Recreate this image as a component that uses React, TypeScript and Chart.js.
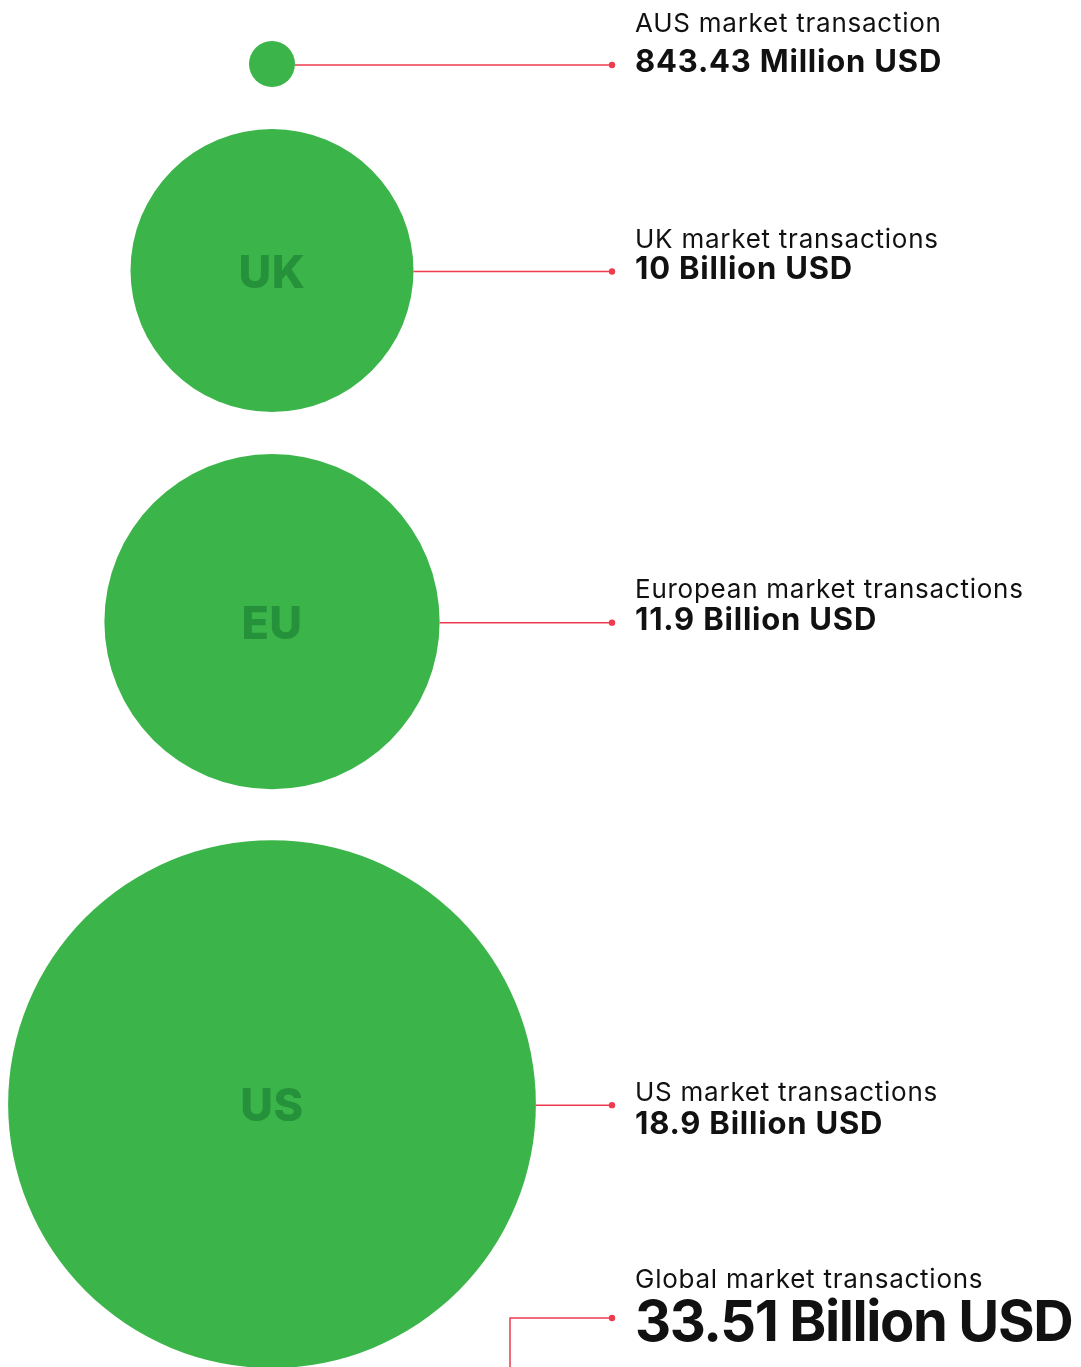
import React, { useEffect, useRef } from "react";
import { Chart, registerables } from "chart.js";

Chart.register(...registerables);

// Market transaction values, in billions of USD
const MARKETS = ["AUS", "UK", "EU", "US"];
const VALUES_BN = [0.84343, 10, 11.9, 18.9];
const BUBBLE_TAGS = ["", "UK", "EU", "US"];
const TITLES = [
  "AUS market transaction",
  "UK market transactions",
  "European market transactions",
  "US market transactions",
];
const VALUE_LABELS = [
  "843.43 Million USD",
  "10 Billion USD",
  "11.9 Billion USD",
  "18.9 Billion USD",
];
const GLOBAL_TITLE = "Global market transactions";
const GLOBAL_LABEL = "33.51 Billion USD";

// Layout
const W = 1081;
const H = 1367;
const COLUMN_X = 272;
const FIRST_TOP = 41;
const STACK_GAPS = [0, 42, 42, 51];
const TITLE_GAPS = [40, 31, 32, 33];
const VALUE_OFFSETS = [8, 8, 8, 30];
const LEADER_END_X = 612;
const TEXT_X = 635;
const GLOBAL_LEADER_X = 510;
const GLOBAL_LEADER_Y = 1318;

const GREEN = "#3bb54a";
const TAG_GREEN = "#25913a";
const RED = "#ee3b4f";
const FONT = "Inter, 'Noto Sans', sans-serif";

const radiusFor = (v: number) => Math.max(23, 4 + 13.75 * v);

// Bubbles are stacked vertically, each separated from the previous by a gap
function stackCenters(): number[] {
  const ys: number[] = [];
  let top = FIRST_TOP;
  VALUES_BN.forEach((v, i) => {
    const r = radiusFor(v);
    top += STACK_GAPS[i];
    ys.push(top + r);
    top += 2 * r;
  });
  return ys;
}

function drawText(
  ctx: CanvasRenderingContext2D,
  text: string,
  x: number,
  y: number,
  font: string,
  spacing: string
) {
  ctx.font = font;
  (ctx as any).letterSpacing = spacing;
  ctx.fillText(text, x, y);
  (ctx as any).letterSpacing = "0px";
}

function drawLeader(ctx: CanvasRenderingContext2D, points: [number, number][]) {
  ctx.strokeStyle = RED;
  ctx.lineWidth = 1.5;
  ctx.beginPath();
  points.forEach(([px, py], k) => (k === 0 ? ctx.moveTo(px, py) : ctx.lineTo(px, py)));
  ctx.stroke();
  const [ex, ey] = points[points.length - 1];
  ctx.fillStyle = RED;
  ctx.beginPath();
  ctx.arc(ex, ey, 3.2, 0, Math.PI * 2);
  ctx.fill();
}

const labelPlugin = {
  id: "marketLabels",
  afterDatasetsDraw(chart: any) {
    const ctx = chart.ctx as CanvasRenderingContext2D;
    const meta = chart.getDatasetMeta(0);
    ctx.save();
    meta.data.forEach((el: any, i: number) => {
      const x = el.x;
      const y = el.y;
      const r = el.options.radius;

      if (BUBBLE_TAGS[i]) {
        ctx.fillStyle = TAG_GREEN;
        ctx.textAlign = "center";
        ctx.textBaseline = "alphabetic";
        drawText(ctx, BUBBLE_TAGS[i], x, y + 17, `800 45px ${FONT}`, "0.5px");
      }

      drawLeader(ctx, [
        [x + r, y + 1],
        [LEADER_END_X, y + 1],
      ]);

      const valueBase = y + VALUE_OFFSETS[i];
      ctx.textAlign = "left";
      ctx.textBaseline = "alphabetic";
      ctx.fillStyle = "#111";
      drawText(ctx, TITLES[i], TEXT_X, valueBase - TITLE_GAPS[i], `400 26px ${FONT}`, "0.75px");
      drawText(ctx, VALUE_LABELS[i], TEXT_X, valueBase, `700 31px ${FONT}`, "0.8px");
    });

    // global total annotation
    const bottom = chart.chartArea.bottom;
    drawLeader(ctx, [
      [GLOBAL_LEADER_X, bottom],
      [GLOBAL_LEADER_X, GLOBAL_LEADER_Y],
      [LEADER_END_X, GLOBAL_LEADER_Y],
    ]);

    ctx.textAlign = "left";
    ctx.fillStyle = "#111";
    drawText(ctx, GLOBAL_TITLE, TEXT_X, GLOBAL_LEADER_Y - 30, `400 26px ${FONT}`, "0.75px");
    drawText(ctx, GLOBAL_LABEL, TEXT_X, GLOBAL_LEADER_Y + 23, `700 56px ${FONT}`, "-1.4px");
    ctx.restore();
  },
};

export default function App() {
  const canvasRef = useRef<HTMLCanvasElement | null>(null);

  useEffect(() => {
    if (!canvasRef.current) return;
    const ys = stackCenters();
    const chart = new Chart(canvasRef.current, {
      type: "bubble",
      data: {
        labels: MARKETS,
        datasets: [
          {
            label: "Market transactions",
            data: VALUES_BN.map((v, i) => ({ x: COLUMN_X, y: ys[i], r: radiusFor(v) })),
            backgroundColor: GREEN,
            borderWidth: 0,
            hoverRadius: 0,
            clip: false as any,
          },
        ],
      },
      options: {
        responsive: false,
        animation: false,
        layout: { padding: 0, autoPadding: false } as any,
        events: [],
        plugins: {
          legend: { display: false },
          tooltip: { enabled: false },
        },
        scales: {
          x: { type: "linear", min: 0, max: W, display: false },
          y: { type: "linear", min: 0, max: H, reverse: true, display: false },
        },
      },
      plugins: [labelPlugin],
    });
    return () => chart.destroy();
  }, []);

  return (
    <div style={{ position: "absolute", left: 0, top: 0, width: W, height: H, background: "#fff" }}>
      <canvas ref={canvasRef} width={W} height={H} style={{ display: "block" }} />
    </div>
  );
}
